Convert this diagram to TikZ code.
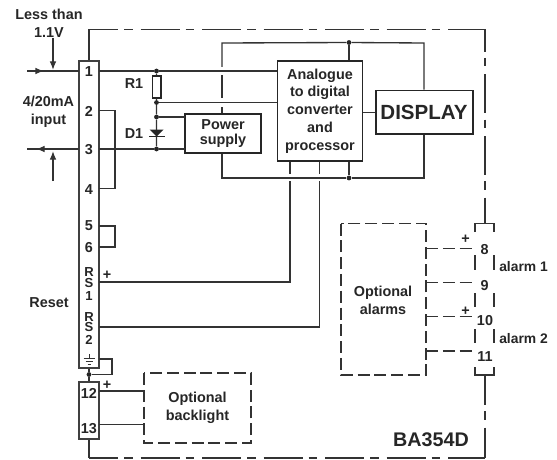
\documentclass[tikz,border=0pt]{standalone}
\usepackage{fontspec}
\setmainfont{Liberation Sans}
\usetikzlibrary{arrows.meta}
\begin{document}
\begin{tikzpicture}[x=0.75pt,y=-0.75pt,
  every node/.style={font=\bfseries\fontsize{10.8}{13.3}\selectfont,inner sep=0pt,align=center,text=black!85},
  wire/.style={line width=1pt,draw=black!80},
  box/.style={draw=black!85,line width=1.3pt,fill=white,inner sep=0pt},
  strip/.style={draw=black!75,line width=1.1pt,fill=white,inner sep=0pt},
  dashbox/.style={draw=black!80,line width=1pt,dash pattern=on 9pt off 3.6pt},
  dashwire/.style={draw=black!80,line width=1pt,dash pattern=on 9pt off 3.6pt},
  border/.style={draw=black!80,line width=1pt,dash pattern=on 29.25pt off 4.5pt on 6.4pt off 6pt},
  dot/.style={circle,fill=black!85,minimum size=3.6pt,inner sep=0pt},
  tick/.style={draw=black!80,line width=1pt},
  arr/.style={-{Latex[length=6.5pt,width=5pt]},line width=1pt,draw=black!80},
  rslabel/.style={font=\bfseries\fontsize{9.8}{10}\selectfont}]
\useasboundingbox (0,0) rectangle (557,460);
% blocks
\node[strip,minimum width=15pt,minimum height=230.25pt] (stripa) at (89,214.5) {};
\node[strip,minimum width=15pt,minimum height=43pt] (stripb) at (89,410.5) {};
\node[box,minimum width=63.75pt,minimum height=75pt] (adc) at (320,111) {};
\node[box,minimum width=57pt,minimum height=29.6pt] (psu) at (223,133.5) {};
\node[box,minimum width=73pt,minimum height=32.6pt] (disp) at (424.5,112.3) {};
\node[draw=black!85,line width=1pt,fill=white,minimum width=6.4pt,minimum height=16.5pt] (rone) at (156.8,87) {};
% junctions
\node[dot] (j1) at (156.5,71) {};
\node[dot] (j2) at (156.5,102.5) {};
\node[dot] (j3) at (156.5,117) {};
\node[dot] (j4) at (156.5,149) {};
\node[dot] (j5) at (349,42.5) {};
\node[dot] (j6) at (349,178) {};
\node[dot] (j7) at (89,374.5) {};
% outer border
\coordinate (ca) at (89,29.5);
\coordinate (cb) at (485,29.5);
\coordinate (cc) at (485,458);
\coordinate (cd) at (89,458);
\coordinate (topbr) at (485,223.5);
\coordinate (botbr) at (485,375);
\draw[wire] (stripa.north -| ca) -- (ca);
\draw[wire] (stripb.south -| cd) -- (cd);
\draw[border,dash phase=7.5pt] (ca) -- (cb);
\draw[border,dash phase=7.5pt] (cd) -- (cc);
\draw[border,dash phase=12.4pt] (cb) -- (topbr);
\draw[border,dash phase=6.75pt] (botbr) -- (cc);
% wires
\coordinate (ina) at (27,71);
\coordinate (inb) at (27,149);
\draw[wire] (ina) -- (79,71);
\draw[wire] (inb) -- (79,149);
\draw[arr] (ina) -- (44,71);
\draw[arr] (79,149) -- (36,149);
\coordinate (va) at (53,38);
\coordinate (vb) at (53,181);
\draw[arr] (va) -- (53,70);
\draw[arr] (vb) -- (53,151);
\draw[wire] (99,71) -- (j1) -- (277,71);
\draw[wire] (j1) -- (rone) -- (j2) -- (j3) -- (j4);
\draw[wire] (99,149) -- (j4) -- (185,149);
\draw[wire] (j2) -- (277,102.5);
\draw[wire] (j3) -- (185,117);
% diode
\coordinate (dl) at (149,136.5);
\coordinate (dr) at (165,136.5);
\fill[black!85] (156.5,136.5) -- (149.5,129.5) -- (163.5,129.5) -- cycle;
\draw[line width=1.2pt,draw=black!85] (dl) -- (dr);
% supply bus
\draw[wire] (psu.north -| 222,0) -- (222,107);
\draw[wire] (222,98) -- (222,75);
\draw[wire] (222,67) -- (222,43) -- (j5) -- (424,43) -- (disp.north -| 424,0);
\draw[wire] (psu.south -| 222,0) -- (222,178) -- (j6) -- (424,178) -- (disp.south -| 424,0);
\draw[wire] (j5) -- (adc.north -| j5);
\draw[wire] (j6) -- (adc.south -| j6);
\draw[wire] (adc.east |- disp) -- (disp.west);
% reset lines
\draw[wire] (adc.south -| 290,0) -- (290,174);
\draw[wire] (290,181) -- (290,282) -- (99,282);
\draw[wire] (adc.south -| 319.7,0) -- (319.7,174);
\draw[wire] (319.7,181) -- (319.7,327) -- (99,327);
% strip links
\draw[wire] (99,110.5) -- (115,110.5) -- (115,188.5) -- (99,188.5);
\draw[wire] (99,226) -- (115,226) -- (115,247) -- (99,247);
\draw[wire] (99,359) -- (112,359) -- (112,374.5) -- (j7);
\draw[wire] (stripa.south -| j7) -- (j7) -- (stripb.north -| j7);
\draw[wire] (99,391) -- (144,391);
\draw[wire] (99,424.5) -- (144,424.5);
% optional blocks
\draw[dashbox] (144,373) rectangle (251,443);
\draw[dashbox] (341,223.5) rectangle (426,375);
\foreach \yy in {248.5,282.5,316.5,351}{\draw[dashwire] (426,\yy) -- (475,\yy);}
% alarm bracket
\draw[tick] (475,232) -- (475,223.5) -- (494,223.5) -- (494,232);
\draw[tick] (475,367) -- (475,375) -- (494,375) -- (494,367);
\foreach \xx in {475,494}{
 \draw[tick] (\xx,255) -- (\xx,270);
 \draw[tick] (\xx,293) -- (\xx,306.5);
 \draw[tick] (\xx,329) -- (\xx,343);
}
% ground symbol
\draw[line width=0.7pt,draw=black!80] (89,354) -- (89,358) (83.5,358) -- (94.5,358) (85.5,361) -- (92.5,361) (87.5,364) -- (90.5,364);
% text
\node (t1) at (89,72) {1};
\node (t2) at (89,111.5) {2};
\node (t3) at (89,150) {3};
\node (t4) at (89,189.5) {4};
\node (t5) at (89,226) {5};
\node (t6) at (89,247.5) {6};
\node[rslabel] (rsa) at (89,284) {R\\[-1.9pt]S\\[-0.2pt]1};
\node[rslabel] (rsb) at (89,328.5) {R\\[-1.9pt]S\\[-0.2pt]2};
\node (t12) at (89,393) {12};
\node (t13) at (89,428.5) {13};
\node (less) at (49,23.5) {Less than\\1.1V};
\node (mainput) at (48.5,111.5) {4/20mA\\input};
\node (rl) at (134,84) {R1};
\node (dtl) at (134,134) {D1};
\node (reset) at (49,302.5) {Reset};
\node[font=\bfseries\fontsize{10.8}{11.2}\selectfont] (psl) at (223,134) {Power\\supply};
\node (adcl) at (320,111) {Analogue\\to digital\\converter\\and\\processor};
\node[font=\bfseries\fontsize{15.4}{17}\selectfont] (dl2) at (424,112.5) {DISPLAY};
\node (pa) at (107,275) {+};
\node (pb) at (107,385) {+};
\node (pc) at (465.5,239.5) {+};
\node (pd) at (465.5,311) {+};
\node (bl) at (197.5,408) {Optional\\backlight};
\node (al) at (383,300) {Optional\\alarms};
\node (a8) at (484.5,250) {8};
\node (a9) at (484.5,286) {9};
\node (a10) at (485,321) {10};
\node (a11) at (485,357) {11};
\node[anchor=west,font=\bfseries\fontsize{10.4}{12}\selectfont] (aa) at (499,267) {alarm 1};
\node[anchor=west,font=\bfseries\fontsize{10.4}{12}\selectfont] (ab) at (499,339) {alarm 2};
\node[font=\bfseries\fontsize{14.8}{17}\selectfont] (ba) at (431,439.5) {BA354D};
\end{tikzpicture}
\end{document}
